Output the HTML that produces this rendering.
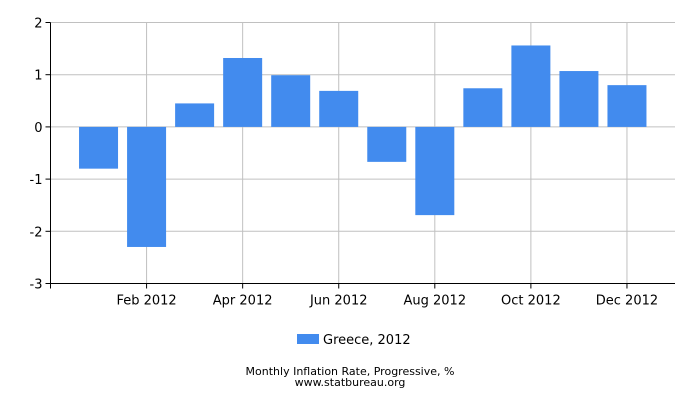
<!DOCTYPE html>
<html><head><meta charset="utf-8"><style>
body{margin:0;background:#fff;}
text{font-family:"DejaVu Sans","Liberation Sans",sans-serif;font-size:13px;fill:#000;}
</style></head><body>
<svg id="chart" width="700" height="400">
<g id="grid"></g><g id="bars"></g><g id="axes"></g>
<g>
<rect x="297" y="334" width="22" height="10" fill="#428bee"></rect>
<text x="323" y="344" font-size="12">Greece, 2012</text>
</g>
<text x="350" y="375" text-anchor="middle" font-size="11" style="font-size:11px">Monthly Inflation Rate, Progressive, %</text>
<text x="350" y="386" text-anchor="middle" style="font-size:11px">www.statbureau.org</text>
</svg>
<script>
const categories=["Jan 2012","Feb 2012","Mar 2012","Apr 2012","May 2012","Jun 2012","Jul 2012","Aug 2012","Sep 2012","Oct 2012","Nov 2012","Dec 2012"];
const values=[-0.8,-2.3,0.45,1.32,0.99,0.69,-0.67,-1.69,0.74,1.56,1.07,0.8];
const yTicks=[2,1,0,-1,-2,-3];
const xLabelIdx=[1,3,5,7,9,11];
const NS="http://www.w3.org/2000/svg";
const L=50.5,R=675,T=22.5,B=283.5,yMax=2,yMin=-3;
const step=(R-L)/13;
const y=v=>T+(yMax-v)*(B-T)/(yMax-yMin);
const x=i=>L+step*(i+1);
function mk(tag,attrs,parent){const e=document.createElementNS(NS,tag);for(const k in attrs)e.setAttribute(k,attrs[k]);parent.appendChild(e);return e;}
const grid=document.getElementById('grid'),bars=document.getElementById('bars'),axes=document.getElementById('axes');
yTicks.forEach(t=>{
 const l=mk('line',{x1:L,x2:R,y1:y(t),y2:y(t),stroke:'#c0c0c0','stroke-width':1},grid);
 
 
 const tk=mk('line',{x1:L-5,x2:L,y1:y(t),y2:y(t),stroke:'#000'},axes);
 
 
 const tx=mk('text',{x:L-8,y:y(t)+5,'text-anchor':'end'},axes);
 tx.textContent=t;
 
 
});
xLabelIdx.forEach(i=>{
 const l=mk('line',{x1:x(i),x2:x(i),y1:T,y2:B,stroke:'#c0c0c0'},grid);
 
 
 const tk=mk('line',{x1:x(i),x2:x(i),y1:B,y2:B+5,stroke:'#000'},axes);
 
 
 const tx=mk('text',{x:x(i),y:B+21,'text-anchor':'middle'},axes);
 tx.textContent=categories[i];
 
 
});
const ax=mk('line',{x1:L,x2:L,y1:T,y2:B+5,stroke:'#000'},axes);


const bx=mk('line',{x1:L-5,x2:R,y1:B,y2:B,stroke:'#000'},axes);


const bw=39;
values.forEach((v,i)=>{
 const y0=y(Math.max(v,0)),h=Math.abs(y(v)-y(0));
 const r=mk('rect',{x:x(i)-bw/2,y:y0,width:bw,height:h,fill:'#428bee'},bars);
 
 
});
</script>
</body></html>
